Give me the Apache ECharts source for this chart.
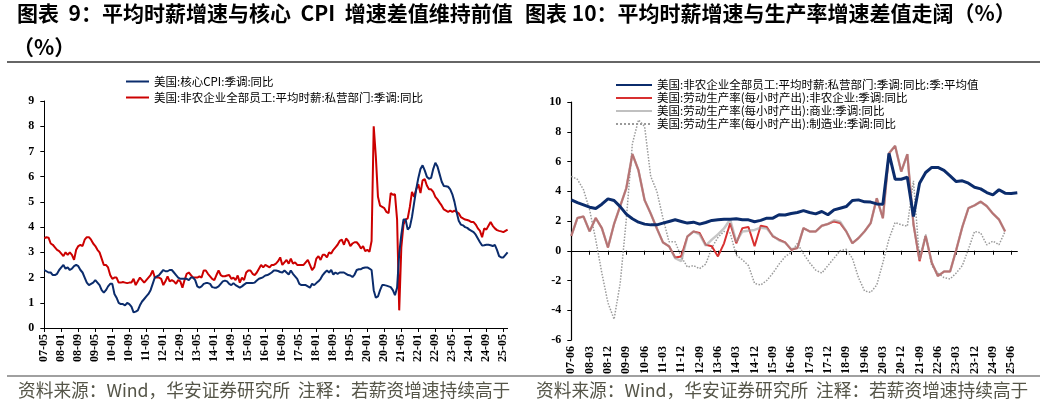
<!DOCTYPE html>
<html><head><meta charset="utf-8">
<script src="https://cdn.jsdelivr.net/npm/echarts@6/dist/echarts.min.js"></script>
<style>html,body{margin:0;padding:0;background:#fff}#c{width:1046px;height:406px}</style>
</head><body><div id="c"></div>
<script>
// ---------- Left chart (monthly, 2007-05 .. 2025-07) ----------
const leftStart = [2007, 5];
const leftCount = 219;
const coreCPI = [
2.3,2.25,2.2,2.2,2.1,2.1,2.15,2.3,2.4,2.5,
2.35,2.4,2.3,2.35,2.45,2.5,2.45,2.3,2.2,2.0,
1.8,1.7,1.75,1.8,1.9,1.8,1.7,1.5,1.4,1.5,
1.65,1.75,1.75,1.35,1.2,1.0,0.95,0.95,0.9,1.0,
0.95,0.85,0.62,0.65,0.7,0.9,1.05,1.15,1.25,1.35,
1.5,1.75,2.0,2.05,2.1,2.2,2.3,2.25,2.25,2.3,
2.3,2.2,2.1,2.0,1.95,1.95,1.95,1.95,1.9,2.0,
2.0,1.9,1.65,1.6,1.65,1.75,
1.78,1.78,1.75,1.62,1.6,1.6,1.65,1.75,1.85,1.88,
1.85,1.75,1.7,1.78,1.7,1.65,1.6,1.65,1.72,1.78,
1.78,1.78,1.78,1.8,1.88,1.95,1.98,2.02,2.08,2.1,
2.15,2.2,2.28,2.28,2.26,2.22,2.2,2.28,2.2,2.12,
2.28,2.15,2.05,1.95,1.75,1.7,1.7,1.7,1.65,1.6,
1.75,1.7,1.78,1.85,1.95,2.1,2.2,2.28,2.2,2.3,
2.12,2.2,2.15,2.2,2.2,2.2,2.15,2.1,2.08,2.02,2.12,
2.3,2.33,2.33,2.38,2.4,2.4,2.35,2.3,1.5,1.2,
1.25,1.5,1.7,1.7,1.68,1.65,1.62,1.5,1.3,1.6,
2.95,3.7,4.3,4.3,3.9,4.0,4.4,4.95,5.5,5.95,
6.3,6.45,6.25,6.0,5.92,5.95,6.3,6.55,6.4,6.1,
5.8,5.63,5.62,5.6,5.5,5.3,5.0,4.6,4.25,4.1,
4.07,4.0,3.97,3.9,3.85,3.8,3.7,3.55,3.4,3.27,
3.28,3.3,3.3,3.28,3.25,3.3,3.1,2.85,2.8,2.8,2.9,3.0];
const wageMonthly = [
3.55,3.6,3.58,3.35,3.3,3.2,3.1,3.05,2.95,2.85,
3.0,2.9,3.0,2.9,2.7,3.1,3.25,3.3,3.25,3.5,
3.6,3.6,3.5,3.35,3.25,3.1,3.0,2.75,2.5,2.5,
2.4,2.1,1.95,2.0,2.0,1.8,1.8,1.82,1.8,1.78,
1.8,1.8,1.95,1.7,1.85,2.0,1.9,1.8,1.9,2.0,
2.1,2.28,2.0,2.0,2.0,1.95,1.7,1.85,2.05,1.85,
1.9,1.85,1.75,1.9,1.85,1.6,1.9,2.15,2.2,2.1,
2.0,2.0,2.0,2.05,2.0,2.28,
2.28,2.15,2.05,1.95,1.9,2.1,2.28,2.1,2.05,2.05,
2.08,2.1,1.95,2.0,1.9,2.08,1.8,2.0,1.9,2.2,
2.28,2.28,2.15,2.1,2.2,2.35,2.5,2.4,2.5,2.45,
2.4,2.5,2.5,2.55,2.65,2.8,2.5,2.6,2.7,2.55,
2.75,2.55,2.6,2.5,2.5,2.5,2.5,2.6,2.7,2.5,
2.3,2.4,2.75,2.85,2.7,2.9,2.9,2.8,3.0,2.95,
3.1,3.2,3.3,3.45,3.5,3.3,3.55,3.45,3.25,3.35,3.4,
3.4,3.3,3.15,3.25,3.05,3.1,3.02,3.45,8.0,6.8,
5.2,4.85,4.8,4.75,4.6,4.55,5.35,5.28,5.3,4.3,
0.7,3.2,4.1,4.3,4.35,4.8,5.4,5.2,5.5,5.7,
5.35,5.85,5.9,5.65,5.5,5.5,5.4,5.2,5.1,4.97,
4.85,4.7,4.65,4.6,4.65,4.6,4.65,4.6,4.55,4.4,
4.35,4.3,4.28,4.25,4.2,4.2,4.1,3.95,3.85,3.6,
3.95,3.9,4.05,4.2,4.05,3.95,3.88,3.85,3.83,3.8,3.85,3.9];

// ---------- Right chart (quarterly, 2007-06 .. 2025-09) ----------
const rightStart = [2007, 6];
const rightCount = 74;
const wageQuarterly = [
3.42,3.24,3.09,2.93,2.84,3.13,3.49,3.38,2.97,2.46,
2.15,1.92,1.79,1.74,1.74,1.86,1.97,2.08,1.97,1.86,
1.92,1.79,1.9,2.04,2.08,2.12,2.12,2.15,2.08,2.08,
1.95,2.04,2.19,2.19,2.42,2.4,2.5,2.57,2.7,2.57,
2.48,2.64,2.42,2.75,2.86,2.97,3.38,3.42,3.29,3.27,
3.15,3.13,6.55,4.81,4.81,4.94,2.3,4.54,5.26,5.6,
5.6,5.4,5.03,4.65,4.7,4.54,4.27,4.16,3.91,3.76,
4.1,3.87,3.85,3.9];
const prodNonfarm = [
1.0,2.2,2.3,1.3,2.2,1.52,0.22,1.8,3.0,4.2,
6.5,5.4,3.4,2.5,1.5,0.56,0.3,-0.45,-0.38,0.96,
1.3,1.2,0.4,0.3,-0.38,0.5,1.85,0.5,1.52,1.6,
0.3,1.68,1.6,0.96,0.74,0.56,0.07,0.18,1.52,1.3,
1.3,1.68,1.8,1.97,1.86,1.3,0.51,0.85,1.3,1.86,
3.53,2.19,6.55,7.05,5.32,6.49,1.8,-0.7,1.0,-0.8,
-1.7,-1.4,-1.4,0.05,1.6,2.86,3.05,3.3,3.0,2.5,
2.1,1.3];
const prodBusiness = [
1.0,2.2,2.3,1.3,2.2,1.52,0.22,1.8,3.0,4.2,
6.5,5.4,3.4,2.5,1.5,0.56,0.3,-0.5,-0.7,0.96,
1.3,1.1,0.35,0.75,1.1,1.5,2.1,0.6,1.3,1.35,
1.4,1.55,1.5,1.0,0.7,0.55,0.1,0.18,1.52,1.3,
1.3,1.68,1.8,2.05,1.95,1.3,0.51,0.85,1.3,1.86,
3.53,2.19,6.55,7.05,5.32,6.49,1.8,-0.6,1.0,-0.8,
-1.7,-1.4,-1.4,0.05,1.6,2.86,3.05,3.3,3.0,2.5,
2.1,1.3];
const prodManufacturing = [
5.0,4.8,4.1,2.75,0.74,-1.5,-3.5,-4.6,-2.2,2.1,
7.2,8.8,8.35,5.0,4.0,2.2,0.6,0.6,-0.4,-1.1,
-1.0,-1.2,-0.9,0.2,0.9,1.3,1.2,-0.3,-0.6,-1.0,
-2.2,-2.3,-2.0,-1.5,-0.9,-0.4,-0.1,0.5,-0.2,-0.8,
-1.3,-1.5,-1.0,-0.5,0.0,0.1,-0.5,-1.8,-2.7,-2.8,
-2.3,-0.8,0.8,1.9,1.75,1.65,4.7,-0.6,1.1,-1.0,
-1.5,-1.8,-1.9,-1.5,-1.0,0.1,1.3,1.2,0.4,0.65,
0.4,1.3];

function monthCats(start, n, step) {
  const out = [];
  let y = start[0], m = start[1];
  for (let k = 0; k < n; k++) {
    out.push(String(y % 100).padStart(2, '0') + '-' + String(m).padStart(2, '0'));
    m += step; while (m > 12) { m -= 12; y++; }
  }
  return out;
}
const leftCats = monthCats(leftStart, leftCount, 1);
const rightCats = monthCats(rightStart, rightCount, 3);

const names = {
  cpi: '美国:核心CPI:季调:同比',
  ahe: '美国:非农企业全部员工:平均时薪:私营部门:季调:同比',
  aheQ: '美国:非农企业全部员工:平均时薪:私营部门:季调:同比:季:平均值',
  pNF: '美国:劳动生产率(每小时产出):非农企业:季调:同比',
  pB: '美国:劳动生产率(每小时产出):商业:季调:同比',
  pM: '美国:劳动生产率(每小时产出):制造业:季调:同比'
};

const axisFont = {fontFamily: 'Liberation Serif', fontWeight: 'bold', fontSize: 12, color: '#000'};
const legendFont = {fontFamily: 'Noto Sans CJK SC', fontSize: 11.5, color: '#000'};
const titleFont = {fontFamily: 'Noto Sans CJK SC', fontWeight: 'bold', fontSize: 21, fill: '#000'};
const srcFont = {fontFamily: 'Noto Sans CJK SC', fontSize: 17.7, fill: '#555548'};
const NAVY = '#0b2c6c';

const chart = echarts.init(document.getElementById('c'), null, {renderer: 'canvas'});
chart.setOption({
  backgroundColor: '#fff',
  animation: false,
  graphic: [
    {type: 'text', left: 17, top: 3, style: Object.assign({text: '图表  9：平均时薪增速与核心  CPI  增速差值维持前值'}, titleFont)},
    {type: 'text', left: 13, top: 37, style: Object.assign({text: '（%）'}, titleFont)},
    {type: 'text', left: 525, top: 3, style: Object.assign({text: '图表 10：平均时薪增速与生产率增速差值走阔（%）'}, titleFont)},
    {type: 'line', shape: {x1: 7, y1: 62, x2: 1040, y2: 62}, style: {stroke: '#333', lineWidth: 1.3}},
    {type: 'line', shape: {x1: 7, y1: 376, x2: 1040, y2: 376}, style: {stroke: '#808080', lineWidth: 1.5}},
    {type: 'text', left: 18, top: 381, style: Object.assign({text: '资料来源：Wind，华安证券研究所  注释：若薪资增速持续高于'}, srcFont)},
    {type: 'text', left: 536, top: 381, style: Object.assign({text: '资料来源：Wind，华安证券研究所  注释：若薪资增速持续高于'}, srcFont)}
  ],
  legend: [
    {left: 125, top: 75, padding: 0, orient: 'vertical', itemWidth: 23, itemHeight: 10, itemGap: 3,
     itemStyle: {opacity: 0},
     textStyle: Object.assign({lineHeight: 13}, legendFont), data: [names.cpi, names.ahe]},
    {left: 615, top: 79, padding: 0, orient: 'vertical', itemWidth: 36, itemHeight: 10, itemGap: 1,
     itemStyle: {opacity: 0},
     textStyle: Object.assign({lineHeight: 12}, legendFont),
     data: [names.aheQ, names.pNF,
            {name: names.pB, lineStyle: {color: '#c0c0c0', opacity: 1}},
            names.pM]}
  ],
  grid: [
    {left: 44.3, top: 101, width: 463.3, height: 227},
    {left: 571.3, top: 102, width: 446, height: 238}
  ],
  xAxis: [
    {gridIndex: 0, type: 'category', data: leftCats, boundaryGap: false,
     axisLine: {lineStyle: {color: '#000', width: 1}},
     axisTick: {interval: 7, length: 4, lineStyle: {color: '#000'}},
     axisLabel: Object.assign({interval: 7, rotate: 90, margin: 6}, axisFont),
     splitLine: {show: false}},
    {gridIndex: 1, type: 'category', data: rightCats, boundaryGap: false,
     axisLine: {onZero: true, lineStyle: {color: '#000', width: 1.2}},
     axisTick: {interval: 2, length: 4, lineStyle: {color: '#000'}},
     axisLabel: Object.assign({interval: 2, rotate: 90, margin: 6}, axisFont),
     splitLine: {show: false}}
  ],
  yAxis: [
    {gridIndex: 0, type: 'value', min: 0, max: 9, interval: 1,
     axisLine: {show: true, lineStyle: {color: '#000', width: 1}},
     axisTick: {show: true, length: 4, lineStyle: {color: '#000'}},
     axisLabel: Object.assign({margin: 10}, axisFont),
     splitLine: {show: false}},
    {gridIndex: 1, type: 'value', min: -6, max: 10, interval: 2,
     axisLine: {show: true, onZero: false, lineStyle: {color: '#000', width: 1.2}},
     axisTick: {show: true, length: 4, lineStyle: {color: '#000'}},
     axisLabel: Object.assign({margin: 10}, axisFont),
     splitLine: {show: false}}
  ],
  series: [
    {name: names.cpi, type: 'line', xAxisIndex: 0, yAxisIndex: 0, data: coreCPI, symbol: 'none',
     lineStyle: {color: NAVY, width: 2}, itemStyle: {color: NAVY}, z: 3},
    {name: names.ahe, type: 'line', xAxisIndex: 0, yAxisIndex: 0, data: wageMonthly, symbol: 'none',
     lineStyle: {color: '#cc0000', width: 2}, itemStyle: {color: '#cc0000'}, z: 2},
    {name: names.pM, type: 'line', xAxisIndex: 1, yAxisIndex: 1, data: prodManufacturing, symbol: 'none',
     lineStyle: {color: '#9a9a9a', width: 1.5, type: 'dotted'}, itemStyle: {color: '#9a9a9a'}, z: 2},
    {name: names.pNF, type: 'line', xAxisIndex: 1, yAxisIndex: 1, data: prodNonfarm, symbol: 'none',
     lineStyle: {color: '#d83030', width: 2}, itemStyle: {color: '#d83030'}, z: 3},
    {name: names.pB, type: 'line', xAxisIndex: 1, yAxisIndex: 1, data: prodBusiness, symbol: 'none',
     lineStyle: {color: '#a0a0a0', width: 2.5, opacity: 0.6}, itemStyle: {color: '#a0a0a0'}, z: 4},
    {name: names.aheQ, type: 'line', xAxisIndex: 1, yAxisIndex: 1, data: wageQuarterly, symbol: 'none',
     lineStyle: {color: NAVY, width: 3}, itemStyle: {color: NAVY}, z: 5}
  ]
});
</script>
</body></html>
